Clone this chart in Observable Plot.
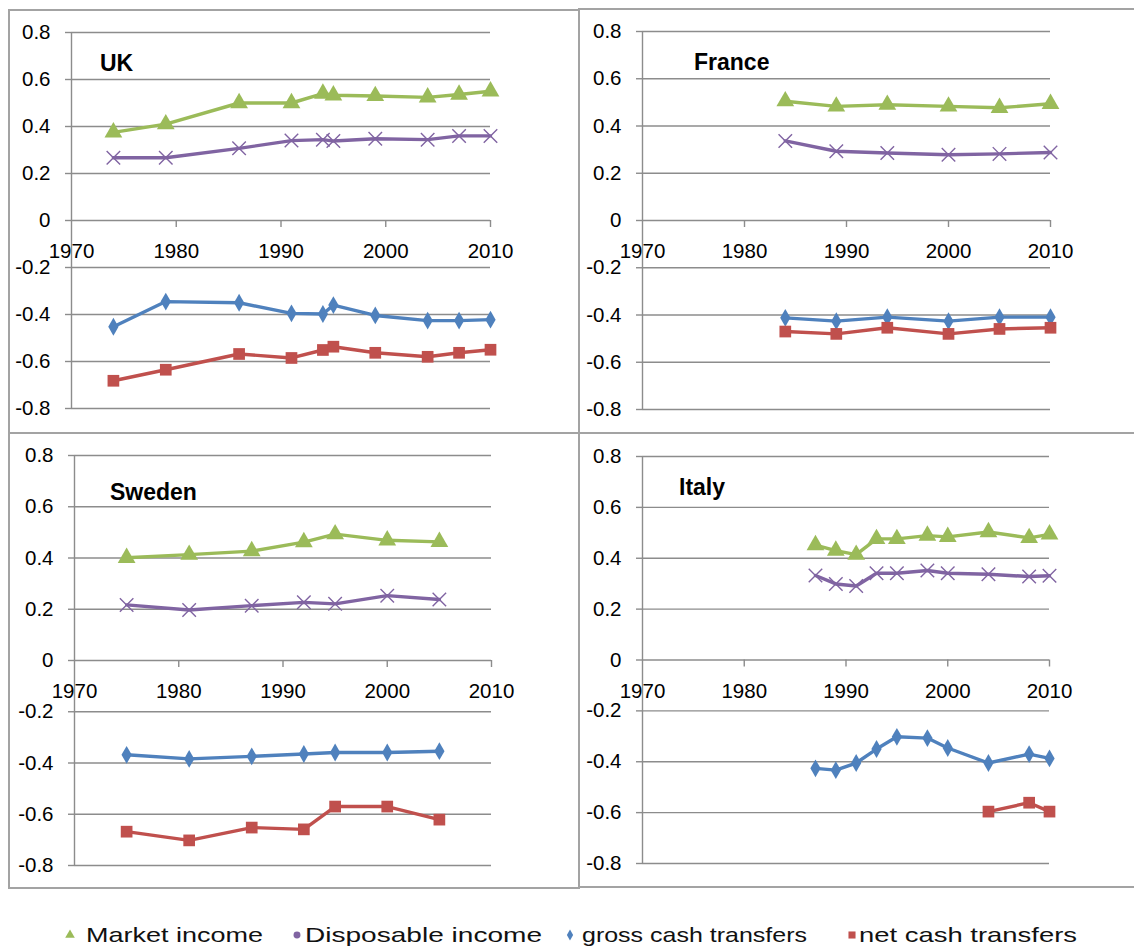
<!DOCTYPE html>
<html>
<head>
<meta charset="utf-8">
<script src="https://cdn.jsdelivr.net/npm/d3@7"></script>
<script src="https://cdn.jsdelivr.net/npm/@observablehq/plot@0.6"></script>
<style>
  body { margin: 0; background: #fff; font-family: "Liberation Sans", Arial, sans-serif; }
  #page { position: relative; width: 1134px; height: 948px; overflow: hidden; background: #fff; }
  .box { position: absolute; border: 2px solid #a3a3a3; box-sizing: border-box; }
  .chart { position: absolute; }
  .chart text { font-size: 20.5px !important; font-family: "Liberation Sans", Arial, sans-serif !important; }
  .title { position: absolute; font-weight: bold; font-size: 23px; line-height: 24px; color: #000; }
  #legend { position: absolute; left: 0; top: 900px; }
</style>
</head>
<body>
<div id="page"></div>
<script>
// series, shared by all four panels
const seriesNames = ["Market income", "Disposable income", "gross cash transfers", "net cash transfers"];
const seriesColors = ["#9bbb59", "#8064a2", "#4f81bd", "#c0504d"];

// axes
const xTicks = [1970, 1980, 1990, 2000, 2010];
const yTicks = [-0.8, -0.6, -0.4, -0.2, 0, 0.2, 0.4, 0.6, 0.8];

// UK
const ukYears = [1974, 1979, 1986, 1991, 1994, 1995, 1999, 2004, 2007, 2010];
const ukMarket = [0.375, 0.41, 0.50, 0.50, 0.54, 0.533, 0.53, 0.524, 0.536, 0.55];
const ukDisposable = [0.267, 0.267, 0.307, 0.34, 0.344, 0.338, 0.348, 0.344, 0.36, 0.36];
const ukGross = [-0.452, -0.345, -0.35, -0.395, -0.398, -0.36, -0.404, -0.426, -0.426, -0.422];
const ukNet = [-0.682, -0.635, -0.568, -0.585, -0.551, -0.537, -0.563, -0.58, -0.563, -0.55];

// France
const frYears = [1984, 1989, 1994, 2000, 2005, 2010];
const frMarket = [0.505, 0.483, 0.49, 0.483, 0.477, 0.494];
const frDisposable = [0.337, 0.293, 0.286, 0.278, 0.282, 0.288];
const frGross = [-0.412, -0.426, -0.409, -0.426, -0.409, -0.409];
const frNet = [-0.47, -0.48, -0.454, -0.48, -0.459, -0.454];

// Sweden
const seYears = [1975, 1981, 1987, 1992, 1995, 2000, 2005];
const seMarket = [0.401, 0.413, 0.427, 0.462, 0.493, 0.469, 0.463];
const seDisposable = [0.217, 0.197, 0.214, 0.227, 0.221, 0.253, 0.238];
const seGross = [-0.368, -0.384, -0.374, -0.365, -0.359, -0.359, -0.354];
const seNet = [-0.668, -0.702, -0.652, -0.659, -0.57, -0.57, -0.621];

// Italy
const itYears = [1987, 1989, 1991, 1993, 1995, 1998, 2000, 2004, 2008, 2010];
const itMarket = [0.452, 0.43, 0.414, 0.476, 0.476, 0.489, 0.484, 0.503, 0.48, 0.494];
const itDisposable = [0.332, 0.299, 0.291, 0.341, 0.341, 0.352, 0.341, 0.337, 0.328, 0.331];
const itGross = [-0.426, -0.433, -0.405, -0.35, -0.302, -0.307, -0.346, -0.405, -0.37, -0.387];
const itNetYears = [2004, 2008, 2010];
const itNet = [-0.596, -0.561, -0.596];

const page = document.getElementById("page");
const grey = "#8c8c8c";
const font = "'Liberation Sans', Arial, sans-serif";

function addBox(l, t, w, h) {
  const d = document.createElement("div");
  d.className = "box";
  Object.assign(d.style, {left: l + "px", top: t + "px", width: w + "px", height: h + "px"});
  page.appendChild(d);
}

function panel(p) {
  const rows = [];
  p.series.forEach(([years, values], k) => {
    years.forEach((year, i) => rows.push({year, value: values[i], s: seriesNames[k]}));
  });
  const of = (k) => rows.filter(d => d.s === seriesNames[k]);

  const chart = Plot.plot({
    width: p.w, height: p.h,
    marginLeft: p.ml, marginRight: p.mr, marginTop: p.mt, marginBottom: p.mb,
    x: {domain: [xTicks[0], xTicks[xTicks.length - 1]], axis: null},
    y: {domain: [yTicks[0], yTicks[yTicks.length - 1]], axis: null},
    style: {fontFamily: font, fontSize: "21px", color: "#000", background: "transparent", overflow: "visible"},
    marks: [
      Plot.gridY(yTicks, {stroke: grey, strokeOpacity: 1, strokeWidth: 1.4}),
      Plot.axisY(yTicks, {tickSize: 6, tickPadding: 15, stroke: grey, strokeWidth: 1.4, fill: "#000",
        fontSize: 21, tickFormat: d => String(d), label: null}),
      Plot.ruleX([xTicks[0]], {y1: yTicks[0], y2: yTicks[yTicks.length - 1], stroke: grey, strokeWidth: 1.4}),
      Plot.ruleX(xTicks.slice(1), {x: d => d, y1: 0, y2: 0, insetBottom: -7, stroke: grey, strokeWidth: 1.4}),
      Plot.text(xTicks, {x: d => d, y: 0, dy: 31, text: d => String(d), fontSize: 21, fill: "#000"}),
      Plot.line(rows, {x: "year", y: "value", z: "s", stroke: d => seriesColors[seriesNames.indexOf(d.s)],
        strokeWidth: 3.4, curve: "linear"}),
      Plot.dot(of(0), {x: "year", y: "value", symbol: "triangle", r: 6.6, fill: seriesColors[0]}),
      Plot.dot(of(1), {x: "year", y: "value", symbol: "times", r: 6.2, stroke: seriesColors[1], strokeWidth: 1.4, fill: "none"}),
      Plot.dot(of(2), {x: "year", y: "value", symbol: "diamond", r: 5.4, fill: seriesColors[2]}),
      Plot.dot(of(3), {x: "year", y: "value", symbol: "square", r: 6.6, fill: seriesColors[3]})
    ]
  });
  chart.classList.add("chart");
  chart.style.left = p.left + "px";
  chart.style.top = p.top + "px";
  page.appendChild(chart);

  const t = document.createElement("div");
  t.className = "title";
  t.textContent = p.name;
  t.style.left = p.tx + "px";
  t.style.top = p.ty + "px";
  page.appendChild(t);
}

addBox(8, 9, 572, 425);
addBox(578, 8, 570, 426);
addBox(8, 432, 572, 457);
addBox(578, 432, 570, 456);

panel({name: "UK", left: 0, top: 0, w: 578, h: 432, ml: 71, mr: 88, mt: 32, mb: 24, tx: 100, ty: 51,
  series: [[ukYears, ukMarket], [ukYears, ukDisposable], [ukYears, ukGross], [ukYears, ukNet]]});
panel({name: "France", left: 578, top: 0, w: 556, h: 432, ml: 64, mr: 84, mt: 31, mb: 23, tx: 694, ty: 50,
  series: [[frYears, frMarket], [frYears, frDisposable], [frYears, frGross], [frYears, frNet]]});
panel({name: "Sweden", left: 0, top: 432, w: 578, h: 456, ml: 74, mr: 87, mt: 23, mb: 23, tx: 110, ty: 480,
  series: [[seYears, seMarket], [seYears, seDisposable], [seYears, seGross], [seYears, seNet]]});
panel({name: "Italy", left: 578, top: 432, w: 556, h: 456, ml: 64, mr: 85, mt: 24, mb: 25, tx: 679, ty: 475,
  series: [[itYears, itMarket], [itYears, itDisposable], [itYears, itGross], [itNetYears, itNet]]});

// legend below the panels
const legendLayout = [
  {sym: d3.symbolTriangle, size: 40, mx: 70, tx: 86, tw: 177},
  {sym: d3.symbolCircle, size: 38, mx: 297, tx: 305, tw: 237},
  {sym: d3.symbolDiamond, size: 34, mx: 570, tx: 582, tw: 225},
  {sym: d3.symbolSquare, size: 50, mx: 852, tx: 859, tw: 218}
];
const legend = d3.create("svg").attr("id", "legend").attr("width", 1134).attr("height", 48);
legendLayout.forEach((l, k) => {
  legend.append("path")
    .attr("d", d3.symbol(l.sym, l.size)())
    .attr("transform", `translate(${l.mx},35)`)
    .attr("fill", seriesColors[k]);
  legend.append("text")
    .attr("x", l.tx).attr("y", 42)
    .attr("textLength", l.tw).attr("lengthAdjust", "spacingAndGlyphs")
    .attr("font-family", font).attr("font-size", 21).attr("fill", "#111")
    .text(seriesNames[k]);
});
page.appendChild(legend.node());
</script>
</body>
</html>
